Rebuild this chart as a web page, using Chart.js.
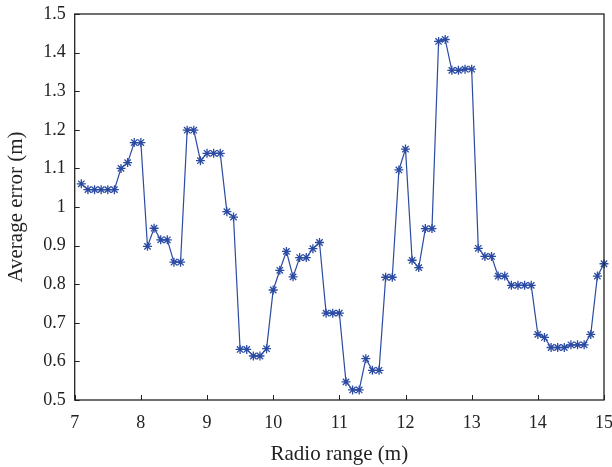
<!DOCTYPE html>
<html>
<head>
<meta charset="utf-8">
<script src="https://cdn.jsdelivr.net/npm/chart.js@4/dist/chart.umd.min.js"></script>
<style>
html,body{margin:0;padding:0;background:#fff;}
#wrap{width:612px;height:467px;}
</style>
</head>
<body>
<div id="wrap"><canvas id="c" width="612" height="467"></canvas></div>
<script>
const radioRange = [7.1,7.2,7.3,7.4,7.5,7.6,7.7,7.8,7.9,8.0,
  8.1,8.2,8.3,8.4,8.5,8.6,8.7,8.8,8.9,9.0,
  9.1,9.2,9.3,9.4,9.5,9.6,9.7,9.8,9.9,10.0,
  10.1,10.2,10.3,10.4,10.5,10.6,10.7,10.8,10.9,11.0,
  11.1,11.2,11.3,11.4,11.5,11.6,11.7,11.8,11.9,12.0,
  12.1,12.2,12.3,12.4,12.5,12.6,12.7,12.8,12.9,13.0,
  13.1,13.2,13.3,13.4,13.5,13.6,13.7,13.8,13.9,14.0,
  14.1,14.2,14.3,14.4,14.5,14.6,14.7,14.8,14.9,15.0];
const averageError = [1.060,1.045,1.045,1.045,1.045,1.045,1.100,1.115,1.167,1.167,
  0.898,0.945,0.915,0.915,0.857,0.857,1.199,1.199,1.120,1.139,
  1.139,1.139,0.988,0.974,0.631,0.631,0.614,0.614,0.633,0.785,
  0.836,0.885,0.819,0.869,0.869,0.892,0.908,0.725,0.725,0.725,
  0.547,0.526,0.526,0.607,0.577,0.577,0.818,0.818,1.096,1.150,
  0.862,0.843,0.944,0.944,1.429,1.434,1.354,1.354,1.357,1.357,
  0.893,0.872,0.872,0.821,0.821,0.797,0.797,0.797,0.797,0.670,
  0.662,0.636,0.636,0.636,0.643,0.643,0.643,0.670,0.821,0.853];
const xTicks = [7,8,9,10,11,12,13,14,15];
const yTicks = [0.5,0.6,0.7,0.8,0.9,1.0,1.1,1.2,1.3,1.4,1.5];

const color = '#2b4ba3';
const font = 'Liberation Serif';

const framePlugin = {
  id: 'frame',
  afterDraw(chart) {
    const {ctx, chartArea: a, scales} = chart;
    ctx.save();
    ctx.strokeStyle = '#222';
    ctx.lineWidth = 1;
    ctx.beginPath();
    xTicks.forEach(v => {
      const px = Math.round(scales.x.getPixelForValue(v)) + 0.5;
      ctx.moveTo(px, a.bottom); ctx.lineTo(px, a.bottom - 5);
    });
    yTicks.forEach(v => {
      const py = Math.round(scales.y.getPixelForValue(v)) + 0.5;
      ctx.moveTo(a.left, py); ctx.lineTo(a.left + 5, py);
    });
    ctx.stroke();
    ctx.lineWidth = 1.3;
    ctx.strokeRect(a.left, a.top, a.right - a.left, a.bottom - a.top);
    ctx.restore();
  }
};

new Chart(document.getElementById('c'), {
  type: 'line',
  data: {
    datasets: [{
      data: radioRange.map((x, i) => ({x: x, y: averageError[i]})),
      borderColor: color,
      backgroundColor: color,
      borderWidth: 1.2,
      pointStyle: 'star',
      pointRadius: 4.5,
      pointBorderWidth: 1.3,
      pointBorderColor: color,
      tension: 0,
      clip: false
    }]
  },
  options: {
    responsive: false,
    animation: false,
    layout: {padding: {left: 4, right: 8, top: 14, bottom: 0}},
    plugins: {legend: {display: false}, tooltip: {enabled: false}},
    scales: {
      x: {
        type: 'linear', min: 7, max: 15,
        afterBuildTicks: s => { s.ticks = xTicks.map(v => ({value: v})); },
        afterFit: s => { s.paddingLeft = 0; s.paddingRight = 0; s.height = 67; },
        grid: {display: false, drawTicks: false},
        border: {display: false},
        ticks: {color: '#222', font: {family: font, size: 18}, padding: 12, maxRotation: 0,
          callback: v => String(v)},
        title: {display: true, text: 'Radio range (m)', color: '#222',
          font: {family: font, size: 21}, padding: {top: 2, bottom: 0}}
      },
      y: {
        type: 'linear', min: 0.5, max: 1.5,
        afterBuildTicks: s => { s.ticks = yTicks.map(v => ({value: v})); },
        afterFit: s => { s.paddingTop = 0; s.paddingBottom = 0; },
        grid: {display: false, drawTicks: false},
        border: {display: false},
        ticks: {color: '#222', font: {family: font, size: 18}, padding: 9,
          callback: v => String(Math.round(v * 10) / 10)},
        title: {display: true, text: 'Average error (m)', color: '#222',
          font: {family: font, size: 21}, padding: {top: 0, bottom: 5}}
      }
    }
  },
  plugins: [framePlugin]
});
</script>
</body>
</html>
